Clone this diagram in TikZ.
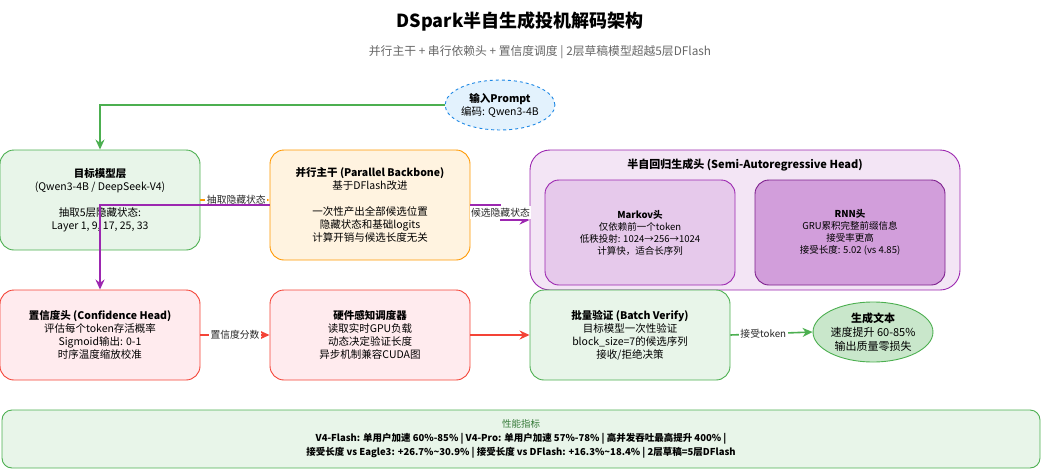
\documentclass[tikz,border=0pt]{standalone}
\usepackage{fontspec}
\setmainfont{Noto Sans CJK SC}
\usepackage{xcolor}
\usetikzlibrary{shapes.geometric, arrows.meta, positioning}

\definecolor{grnline}{HTML}{4CAF50}
\definecolor{grnfill}{HTML}{E8F5E9}
\definecolor{orgline}{HTML}{FF9800}
\definecolor{orgfill}{HTML}{FFF3E0}
\definecolor{purline}{HTML}{9C27B0}
\definecolor{purfill}{HTML}{F3E5F5}
\definecolor{redline}{HTML}{F44336}
\definecolor{redfill}{HTML}{FFEBEE}
\definecolor{bluline}{HTML}{1E88E5}
\definecolor{blufill}{HTML}{E3F2FD}

\begin{document}
\begin{tikzpicture}[x=1pt, y=-1pt,
    box/.style={rectangle, rounded corners=14pt, draw=#1line, fill=#1fill, line width=0.9pt,
        align=center, minimum width=200pt, minimum height=90pt, inner sep=2pt,
        font=\fontsize{10.5}{13}\selectfont},
    subbox/.style={rectangle, rounded corners=14pt, line width=0.9pt, align=center,
        minimum width=190pt, minimum height=105pt, font=\fontsize{9.5}{12}\selectfont},
    link/.style={line width=1.6pt, -{Stealth[length=10pt, width=9pt]}},
    lbl/.style={fill=white, inner sep=1.5pt, font=\fontsize{9.8}{11}\selectfont, text=black!85}]
\useasboundingbox (0,0) rectangle (1041,471);

% title
\node (title) at (520,22) {\fontsize{18}{20}\selectfont\bfseries DSpark半自生成投机解码架构};
\node[text=black!60] (subtitle) at (540,52) {\fontsize{11.8}{13}\selectfont 并行主干 + 串行依赖头 + 置信度调度 | 2层草稿模型超越5层DFlash};

% input
\node[ellipse, draw=bluline, fill=blufill, dashed, line width=0.9pt, minimum width=100pt,
    minimum height=50pt, inner sep=0pt, align=center, font=\fontsize{10.5}{13}\selectfont]
    (prompt) at (500,105) {\textbf{输入Prompt}\\编码: Qwen3-4B};

% first row
\node[box=grn, minimum height=100pt] (target) at (100,200)
    {\textbf{目标模型层}\\(Qwen3-4B / DeepSeek-V4)\\[13pt]抽取5层隐藏状态:\\Layer 1, 9, 17, 25, 33};
\node[box=org, minimum height=110pt] (backbone) at (370,205)
    {\textbf{并行主干 (Parallel Backbone)}\\基于DFlash改进\\[13pt]一次性产出全部候选位置\\隐藏状态和基础logits\\计算开销与候选长度无关};

% semi-autoregressive head
\node[rectangle, rounded corners=20pt, draw=purline, fill=purfill, line width=0.9pt,
    minimum width=430pt, minimum height=140pt] (semi) at (745,220) {};
\node[font=\fontsize{11}{13}\selectfont\bfseries] (semititle) at (745,165)
    {半自回归生成头 (Semi-Autoregressive Head)};
\node[subbox, draw=purline, fill=purline!25] (markov) at (640,232.5)
    {\textbf{Markov头}\\仅依赖前一个token\\低秩投射: 1024→256→1024\\计算快，适合长序列};
\node[subbox, draw=purline!80!black, fill=purline!45] (rnn) at (850,232.5)
    {\textbf{RNN头}\\GRU累积完整前缀信息\\接受率更高\\接受长度: 5.02 (vs 4.85)};

% second row
\node[box=red] (conf) at (100,335)
    {\textbf{置信度头 (Confidence Head)}\\评估每个token存活概率\\Sigmoid输出: 0-1\\时序温度缩放校准};
\node[box=red] (hw) at (370,335)
    {\textbf{硬件感知调度器}\\读取实时GPU负载\\动态决定验证长度\\异步机制兼容CUDA图};
\node[box=grn] (batch) at (630,335)
    {\textbf{批量验证 (Batch Verify)}\\目标模型一次性验证\\block\_size=7的候选序列\\接收/拒绝决策};
\node[ellipse, draw=grnline, fill=grnline!30, line width=0.9pt, minimum width=100pt,
    minimum height=60pt, inner sep=0pt, align=center, font=\fontsize{11}{14}\selectfont]
    (output) at (873,332) {\textbf{生成文本}\\速度提升 60-85\%\\输出质量零损失};

% metrics
\node[rectangle, rounded corners=10pt, draw=grnline, fill=grnfill, line width=0.9pt,
    minimum width=1038pt, minimum height=58pt, align=center,
    font=\fontsize{9.5}{14}\selectfont] (metrics) at (521,439)
    {\textcolor{grnline!70!black}{性能指标}\\
     \textbf{V4-Flash: 单用户加速 60\%-85\% | V4-Pro: 单用户加速 57\%-78\% | 高并发吞吐最高提升 400\% |}\\
     \textbf{接受长度 vs Eagle3: +26.7\%\textasciitilde30.9\% | 接受长度 vs DFlash: +16.3\%\textasciitilde18.4\% | 2层草稿=5层DFlash}};

% connectors
\draw[link, grnline] (prompt.west) -| (target.north);
\draw[link, orgline] (target.east) -- (target.east -| backbone.west)
    node[pos=0.52, lbl] {抽取隐藏状态};
\draw[link, purline] (backbone.west) -| (conf.north);
\draw[link, purline] (backbone.east) -- ++(30,0) |- node[pos=0.25, lbl] {候选隐藏状态} (semi.west);
\draw[link, redline] (conf.east) -- (hw.west) node[midway, lbl] {置信度分数};
\draw[link, redline] (hw.east) -- (batch.west);
\draw[link, grnline] (batch.east) -- (output.west) node[pos=0.4, lbl] {接受token};
\end{tikzpicture}
\end{document}
